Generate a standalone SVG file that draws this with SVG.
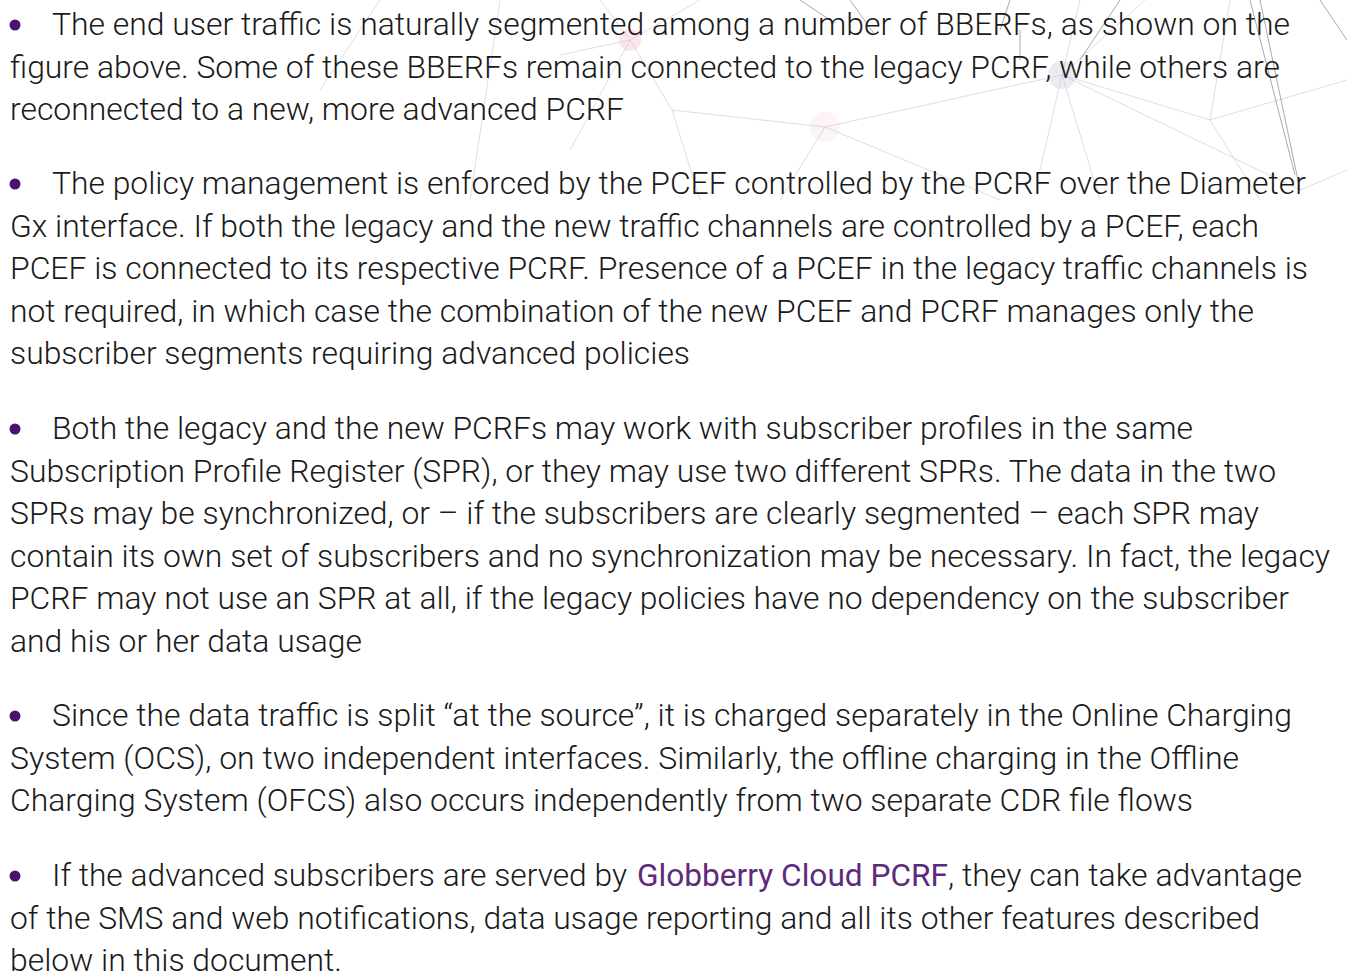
<svg xmlns="http://www.w3.org/2000/svg" width="1347" height="974" viewBox="0 0 1347 974">
<style>
.t{font-family:Roboto,"Liberation Sans",sans-serif;font-weight:300;font-size:31px;fill:#1a1a1a}
.lk{font-family:Roboto,"Liberation Sans",sans-serif;font-weight:400;font-size:31px;fill:#5e2a7e}
.b{fill:#4a1270}
.bg{stroke:#c8c4d2;stroke-width:1;fill:none;opacity:0.6}
.bgd{stroke:#8a7f9c;stroke-width:1;fill:none;opacity:0.7}
</style>
<rect width="1347" height="974" fill="#ffffff"/>
<g id="background">
<circle cx="630" cy="40" r="11" fill="#fbe6ea"/>
<circle cx="1062" cy="75" r="14" fill="#ecebf0"/>
<circle cx="825" cy="127" r="15" fill="#fcf4f5"/>
<path class="bg" d="M630 40 L600 0 M630 40 L700 0 M630 40 L560 55 M630 40 L672 110 M630 40 L570 150 M672 110 L825 127 M672 110 L700 200 M825 127 L1062 75 M825 127 L1000 200 M825 127 L780 200 M1062 75 L1080 0 M1062 75 L1145 0 M1062 75 L1210 120 M1062 75 L1100 200 M1062 75 L1040 170 M1062 75 L1300 190 M1210 120 L1230 0 M1210 120 L1260 200 M1210 120 L1347 80 M1300 190 L1347 170 M500 0 L470 200 M380 0 L320 90"/>
<path class="bgd" d="M1320 0 L1347 40 M1250 0 L1295 175 M1260 0 L1300 190 M850 0 L875 35 M1120 0 L1080 60 M1010 0 L1000 30 M800 0 L830 20 M1020 30 L1020 60"/>
</g>
<g id="para1">
<circle class="b" cx="15" cy="25" r="5.5"/>
<text class="t" x="52" y="35" textLength="1238" lengthAdjust="spacingAndGlyphs">The end user traffic is naturally segmented among a number of BBERFs, as shown on the</text>
<text class="t" x="10" y="77.5" textLength="1270" lengthAdjust="spacingAndGlyphs">figure above. Some of these BBERFs remain connected to the legacy PCRF, while others are</text>
<text class="t" x="10" y="120" textLength="614" lengthAdjust="spacingAndGlyphs">reconnected to a new, more advanced PCRF</text>
</g>
<g id="para2">
<circle class="b" cx="15" cy="184" r="5.5"/>
<text class="t" x="52" y="194" textLength="1254" lengthAdjust="spacingAndGlyphs">The policy management is enforced by the PCEF controlled by the PCRF over the Diameter</text>
<text class="t" x="10" y="236.5" textLength="1249" lengthAdjust="spacingAndGlyphs">Gx interface. If both the legacy and the new traffic channels are controlled by a PCEF, each</text>
<text class="t" x="10" y="279" textLength="1298" lengthAdjust="spacingAndGlyphs">PCEF is connected to its respective PCRF. Presence of a PCEF in the legacy traffic channels is</text>
<text class="t" x="10" y="321.5" textLength="1244" lengthAdjust="spacingAndGlyphs">not required, in which case the combination of the new PCEF and PCRF manages only the</text>
<text class="t" x="10" y="364" textLength="680" lengthAdjust="spacingAndGlyphs">subscriber segments requiring advanced policies</text>
</g>
<g id="para3">
<circle class="b" cx="15" cy="429" r="5.5"/>
<text class="t" x="52" y="439" textLength="1141" lengthAdjust="spacingAndGlyphs">Both the legacy and the new PCRFs may work with subscriber profiles in the same</text>
<text class="t" x="10" y="481.5" textLength="1266" lengthAdjust="spacingAndGlyphs">Subscription Profile Register (SPR), or they may use two different SPRs. The data in the two</text>
<text class="t" x="10" y="524" textLength="1249" lengthAdjust="spacingAndGlyphs">SPRs may be synchronized, or – if the subscribers are clearly segmented – each SPR may</text>
<text class="t" x="10" y="566.5" textLength="1320" lengthAdjust="spacingAndGlyphs">contain its own set of subscribers and no synchronization may be necessary. In fact, the legacy</text>
<text class="t" x="10" y="609" textLength="1279" lengthAdjust="spacingAndGlyphs">PCRF may not use an SPR at all, if the legacy policies have no dependency on the subscriber</text>
<text class="t" x="10" y="651.5" textLength="352" lengthAdjust="spacingAndGlyphs">and his or her data usage</text>
</g>
<g id="para4">
<circle class="b" cx="15" cy="716" r="5.5"/>
<text class="t" x="52" y="726" textLength="1240" lengthAdjust="spacingAndGlyphs">Since the data traffic is split “at the source”, it is charged separately in the Online Charging</text>
<text class="t" x="10" y="768.5" textLength="1229" lengthAdjust="spacingAndGlyphs">System (OCS), on two independent interfaces. Similarly, the offline charging in the Offline</text>
<text class="t" x="10" y="811" textLength="1183" lengthAdjust="spacingAndGlyphs">Charging System (OFCS) also occurs independently from two separate CDR file flows</text>
</g>
<g id="para5">
<circle class="b" cx="15" cy="876" r="5.5"/>
<text class="t" x="52" y="886" textLength="575" lengthAdjust="spacingAndGlyphs">If the advanced subscribers are served by</text>
<text class="lk" x="637" y="886" textLength="311" lengthAdjust="spacingAndGlyphs">Globberry Cloud PCRF</text>
<text class="t" x="948" y="886" textLength="354" lengthAdjust="spacingAndGlyphs">, they can take advantage</text>
<text class="t" x="10" y="928.5" textLength="1250" lengthAdjust="spacingAndGlyphs">of the SMS and web notifications, data usage reporting and all its other features described</text>
<text class="t" x="10" y="971" textLength="332" lengthAdjust="spacingAndGlyphs">below in this document.</text>
</g>
</svg>
